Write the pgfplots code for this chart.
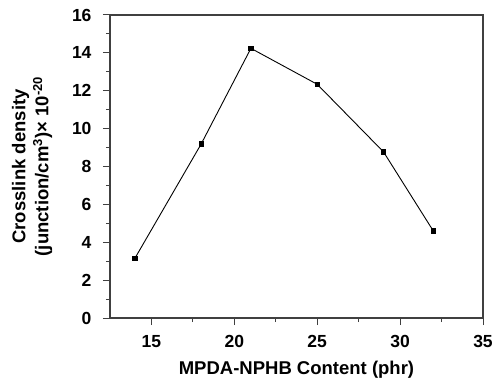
\documentclass[border=0pt]{standalone}
\usepackage{pgfplots}
\pgfplotsset{compat=1.18}
\usepackage{fontspec}
\setmainfont{Liberation Sans}
\begin{document}
\begin{tikzpicture}[x=1bp,y=1bp]
\begin{axis}[
  scale only axis,
  width=373bp, height=303bp,
  xmin=12.5, xmax=35, ymin=0, ymax=16,
  xtick={15,20,25,30,35}, ytick={0,2,...,16},
  minor x tick num=1, minor y tick num=1,
  tick align=outside,
  xtick pos=bottom, ytick pos=left,
  major tick length=7bp, minor tick length=4bp,
  axis line style={line width=1.1bp, draw=black!75},
  every tick/.style={line width=1bp, black!75},
  ticklabel style={font=\fontsize{17.5bp}{19bp}\selectfont\bfseries},
  xticklabel style={yshift=-7bp},
  yticklabel style={xshift=-8bp},
  /pgf/number format/assume math mode=true,
  label style={font=\fontsize{18.5bp}{23bp}\selectfont\bfseries},
  xlabel={MPDA-NPHB Content (phr)},
  ylabel={\begin{tabular}{c}Crosslink density\\(junction/cm\textsuperscript{3})× 10\textsuperscript{-20}\end{tabular}},
  ylabel style={yshift=10bp},
  xlabel style={yshift=-6bp},
]
\coordinate (bl) at (rel axis cs:0,0);
\coordinate (tr) at (rel axis cs:1,1);
\addplot[black, line width=0.9bp, mark=square*, mark size=2.2bp] coordinates {
(14,3.15) (18,9.19) (21,14.24) (25,12.34) (29,8.77) (32,4.6)
};
\end{axis}
\pgfresetboundingbox
\path ([shift={(-110bp,-64bp)}]bl) rectangle ([shift={(16bp,15bp)}]tr);
\end{tikzpicture}
\end{document}
